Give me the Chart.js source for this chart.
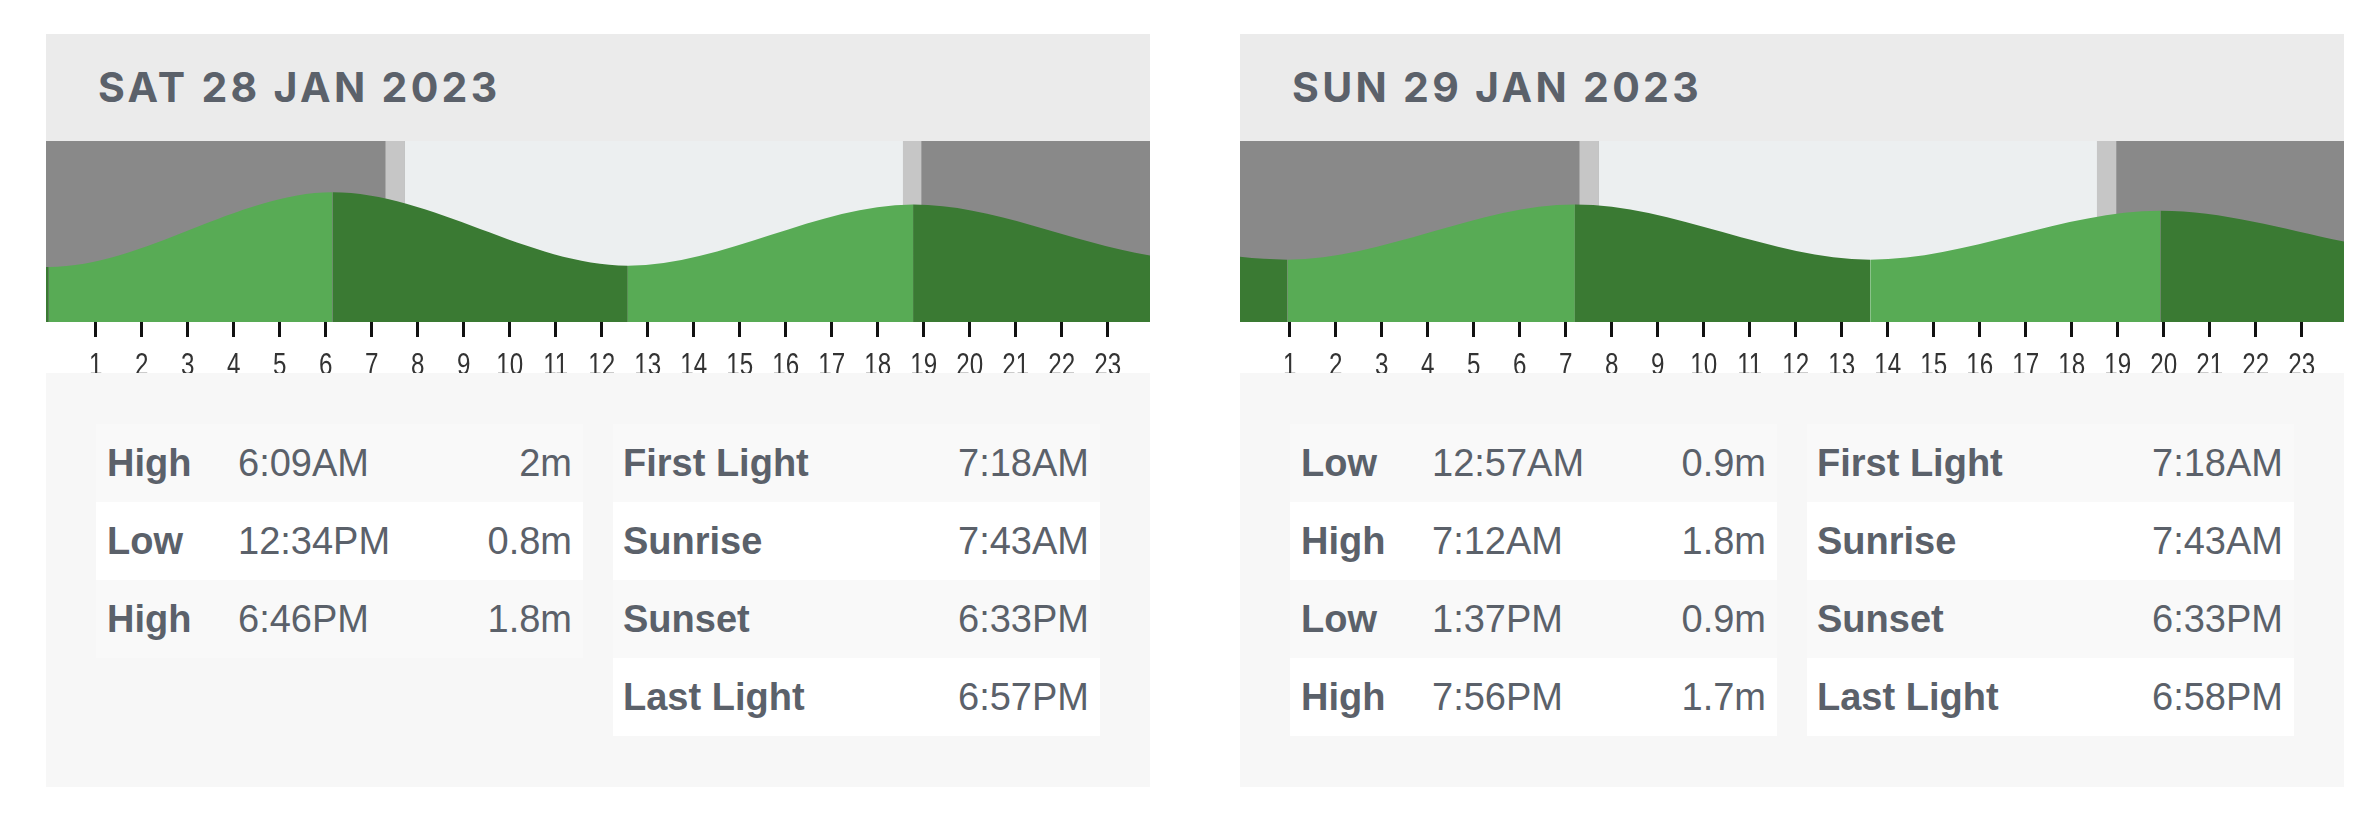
<!DOCTYPE html>
<html>
<head>
<meta charset="utf-8">
<script src="https://cdn.jsdelivr.net/npm/chart.js@4.4.0/dist/chart.umd.min.js"></script>
<style>
  body { margin: 0; background: #fff; width: 2379px; height: 834px; position: relative; overflow: hidden; }
  .panel { position: absolute; top: 34px; width: 1104px; height: 753px; background: #f7f7f7; }
  .head { position: absolute; left: 0; top: 0; width: 1104px; height: 107px; background: #ebebeb; }
  .title { position: absolute; left: 52px; top: 33px; line-height: 41px; font-family: Inter, "Open Sans", sans-serif;
    font-weight: 700; font-size: 41px; letter-spacing: 3.3px; color: #5b616a; white-space: nowrap; }
  .chartwrap { position: absolute; left: 0; top: 107px; width: 1104px; height: 232px; overflow: hidden; background: #fff; }
  .tbl { position: absolute; top: 390px; width: 487px; font-family: "Liberation Sans", Arial, sans-serif; font-size: 38px; color: #5b616a; }
  .row { position: relative; height: 78px; line-height: 78px; white-space: nowrap; }
  .row:nth-child(odd) { background: #f9f9f9; }
  .row:nth-child(even) { background: #fff; }
  .lab { position: absolute; left: 11px; font-weight: 700; }
  .tm { position: absolute; left: 142px; }
  .rt { position: absolute; right: 11px; }
</style>
</head>
<body>
<script>
// hours shown under each chart
const hourTicks = [1, 2, 3, 4, 5, 6, 7, 8, 9, 10, 11, 12, 13, 14, 15, 16, 17, 18, 19, 20, 21, 22, 23];
const hourLabels = ["1", "2", "3", "4", "5", "6", "7", "8", "9", "10", "11", "12", "13", "14", "15", "16", "17", "18", "19", "20", "21", "22", "23"];

// tide turning points, decimal hours from midnight (incl. neighbours off the edges)
const day1TideHours = [-6.3, -0.02, 6.15, 12.57, 18.77, 24.95, 31.2];
const day1TideHeights = [1.9, 0.78, 2.0, 0.8, 1.8, 0.9, 1.8];
const day2TideHours = [-5.23, 0.95, 7.2, 13.62, 19.93, 26.05, 32.3];
const day2TideHeights = [1.8, 0.9, 1.8, 0.9, 1.7, 1.0, 1.8];

// first light, sunrise, sunset, last light
const day1SunHours = [7.3, 7.72, 18.55, 18.95];
const day2SunHours = [7.3, 7.72, 18.55, 18.97];

const day1TideType = ["High", "Low", "High"];
const day1TideTime = ["6:09AM", "12:34PM", "6:46PM"];
const day1TideText = ["2m", "0.8m", "1.8m"];
const day2TideType = ["Low", "High", "Low", "High"];
const day2TideTime = ["12:57AM", "7:12AM", "1:37PM", "7:56PM"];
const day2TideText = ["0.9m", "1.8m", "0.9m", "1.7m"];

const sunNames = ["First Light", "Sunrise", "Sunset", "Last Light"];
const day1SunText = ["7:18AM", "7:43AM", "6:33PM", "6:57PM"];
const day2SunText = ["7:18AM", "7:43AM", "6:33PM", "6:58PM"];

const NIGHT = "#898989", TWILIGHT = "#c6c6c6", DAY = "#eceff0";
const RISING = "#58ab55", FALLING = "#3a7a33";

const bandsPlugin = {
  id: "bands",
  beforeDatasetsDraw(chart, args, opts) {
    const { ctx, chartArea: a, scales: { x } } = chart;
    const s = opts.sun;
    ctx.save();
    ctx.beginPath();
    ctx.rect(a.left, a.top, a.width, a.height);
    ctx.clip();
    ctx.fillStyle = NIGHT;
    ctx.fillRect(a.left, a.top, a.width, a.height);
    const band = (from, to, color) => {
      const x0 = x.getPixelForValue(from), x1 = x.getPixelForValue(to);
      ctx.fillStyle = color;
      ctx.fillRect(x0, a.top, x1 - x0, a.height);
    };
    band(s[0], s[1], TWILIGHT);
    band(s[1], s[2], DAY);
    band(s[2], s[3], TWILIGHT);
    ctx.restore();
  }
};

// the hour labels are narrow and tall, so squeeze them sideways
const hourLabelPlugin = {
  id: "hourLabels",
  afterDraw(chart) {
    const { ctx, chartArea: a, scales: { x } } = chart;
    ctx.save();
    ctx.font = "31px 'Liberation Sans', Arial, sans-serif";
    ctx.fillStyle = "#333";
    ctx.textAlign = "center";
    ctx.textBaseline = "alphabetic";
    x.ticks.forEach((t, i) => {
      ctx.save();
      ctx.translate(x.getPixelForValue(t.value), a.bottom + 53);
      ctx.scale(0.78, 1);
      ctx.fillText(hourLabels[i], 0, 0);
      ctx.restore();
    });
    ctx.restore();
  }
};

function makePanel(left, title, tideHours, tideHeights, sunHours, tType, tTime, tText, sunText) {
  const panel = document.createElement("div");
  panel.className = "panel";
  panel.style.left = left + "px";
  panel.innerHTML =
    '<div class="head"><div class="title">' + title + '</div></div>' +
    '<div class="chartwrap"><canvas width="1104" height="241"></canvas></div>';

  const tides = document.createElement("div");
  tides.className = "tbl";
  tides.style.left = "50px";
  tType.forEach((t, i) => {
    tides.innerHTML += '<div class="row"><span class="lab">' + t + '</span><span class="tm">' +
      tTime[i] + '</span><span class="rt">' + tText[i] + '</span></div>';
  });
  panel.appendChild(tides);

  const sun = document.createElement("div");
  sun.className = "tbl";
  sun.style.left = "567px";
  sunNames.forEach((n, i) => {
    sun.innerHTML += '<div class="row"><span class="lab" style="left:10px">' + n +
      '</span><span class="rt">' + sunText[i] + '</span></div>';
  });
  panel.appendChild(sun);
  document.body.appendChild(panel);

  new Chart(panel.querySelector("canvas"), {
    type: "line",
    data: {
      datasets: [{
        data: tideHours.map((h, i) => ({ x: h, y: tideHeights[i] })),
        fill: "start",
        cubicInterpolationMode: "monotone",
        borderWidth: 0,
        pointRadius: 0,
        backgroundColor: RISING,
        segment: {
          backgroundColor: (c) => (c.p1.parsed.y > c.p0.parsed.y ? RISING : FALLING),
          borderColor: (c) => (c.p1.parsed.y > c.p0.parsed.y ? RISING : FALLING),
        },
      }],
    },
    options: {
      responsive: false,
      animation: false,
      layout: { padding: 0 },
      plugins: { legend: { display: false }, tooltip: { enabled: false }, bands: { sun: sunHours } },
      scales: {
        x: {
          type: "linear",
          min: -0.08,
          max: 23.92,
          border: { display: false },
          grid: { drawOnChartArea: false, drawTicks: true, tickLength: 15, tickWidth: 3, tickColor: "#111" },
          ticks: { display: false, autoSkip: false },
          afterBuildTicks: (s) => { s.ticks = hourTicks.map((v) => ({ value: v })); },
          afterFit: (s) => { s.height = 60; },
        },
        y: { display: false, min: -0.12, max: 2.84 },
      },
    },
    plugins: [bandsPlugin, hourLabelPlugin],
  });
}

makePanel(46, "SAT 28 JAN 2023", day1TideHours, day1TideHeights, day1SunHours,
  day1TideType, day1TideTime, day1TideText, day1SunText);
makePanel(1240, "SUN 29 JAN 2023", day2TideHours, day2TideHeights, day2SunHours,
  day2TideType, day2TideTime, day2TideText, day2SunText);
</script>
</body>
</html>
